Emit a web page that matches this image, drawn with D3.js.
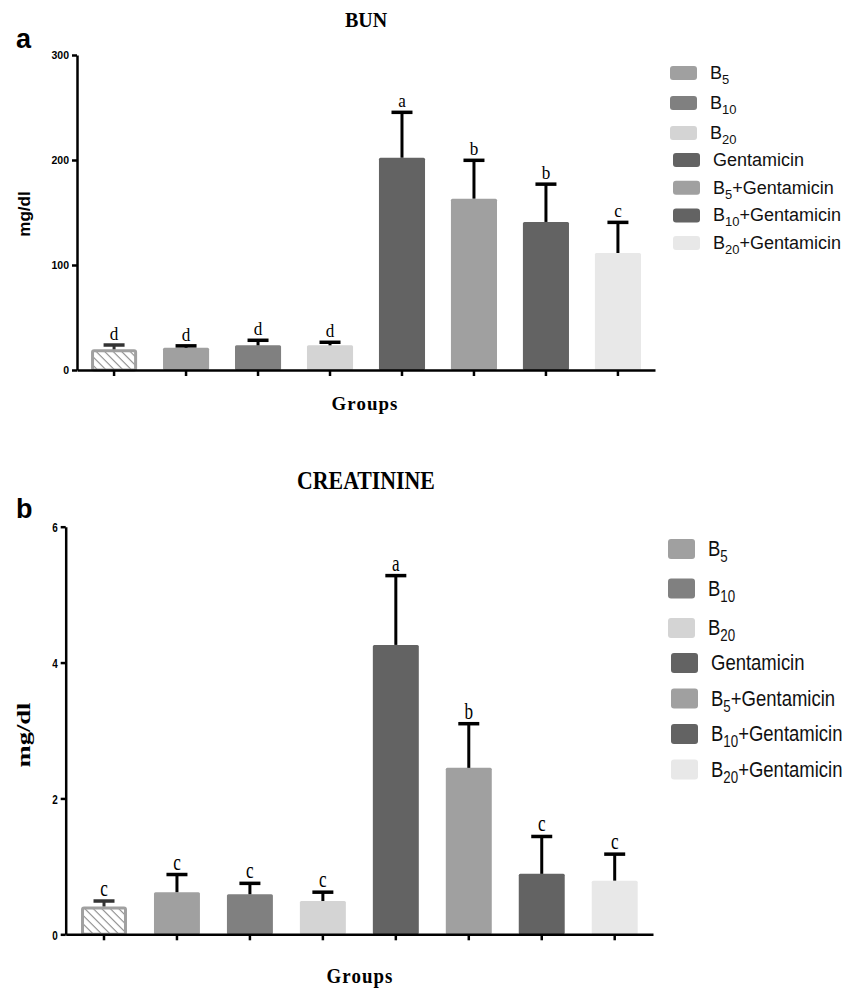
<!DOCTYPE html>
<meta charset="utf-8">
<style>
body { margin: 0; background: #fff; }
svg { display: block; }
.axis path, .axis line { stroke: #000; stroke-width: 2.5; fill: none; }
.axis text { font-family: "Liberation Sans", Arial, sans-serif; font-weight: bold; fill: #000; }
</style>
<body>
<script src="https://cdnjs.cloudflare.com/ajax/libs/d3/7.8.5/d3.min.js"></script>
<script>

// groups on the x axis (first one is the hatched control bar, not in the legend)
var groups = ["Control", "B5", "B10", "B20", "Gentamicin", "B5+Gentamicin", "B10+Gentamicin", "B20+Gentamicin"];

// legend labels split as [base, subscript, rest]
var legendParts = [
  ["B", "5", ""], ["B", "10", ""], ["B", "20", ""], ["Gentamicin", "", ""],
  ["B", "5", "+Gentamicin"], ["B", "10", "+Gentamicin"], ["B", "20", "+Gentamicin"]
];

// BUN (mg/dl): mean and upper error
var bunMean = [19.7, 21.2, 23.5, 23.5, 202.2, 163.2, 141, 111.4];
var bunErr  = [4.1, 1.8, 4.8, 2.9, 43.2, 36.5, 36, 29.2];
var bunLetters = ["d", "d", "d", "d", "a", "b", "b", "c"];
var bunTicks = [0, 100, 200, 300];

// Creatinine (mg/dl)
var creMean = [0.41, 0.62, 0.59, 0.49, 4.26, 2.45, 0.89, 0.79];
var creErr  = [0.08, 0.26, 0.16, 0.13, 1.02, 0.65, 0.55, 0.39];
var creLetters = ["c", "c", "c", "c", "a", "b", "c", "c"];
var creTicks = [0, 2, 4, 6];

var color = d3.scaleOrdinal()
    .domain(groups)
    .range(["#ffffff", "#a0a0a0", "#808080", "#d4d4d4", "#636363", "#a0a0a0", "#636363", "#e8e8e8"]);

var serif = "'Liberation Serif', 'Times New Roman', serif",
    sans = "'Liberation Sans', Arial, sans-serif";

var svg = d3.select("body").append("svg")
    .attr("width", 862)
    .attr("height", 991);

var defs = svg.append("defs");
var hatch = defs.append("pattern")
    .attr("id", "hatch")
    .attr("patternUnits", "userSpaceOnUse")
    .attr("width", 6)
    .attr("height", 6)
    .attr("patternTransform", "rotate(45)");
hatch.append("rect").attr("width", 6).attr("height", 6).attr("fill", "#fff");
hatch.append("line")
    .attr("x1", 0).attr("y1", 0).attr("x2", 6).attr("y2", 0)
    .attr("stroke", "#8a8a8a").attr("stroke-width", 2.2);

// text helper, sy stretches glyphs vertically (the bottom panel is squashed in the source)
function label(g, x, y, txt, font, size, weight, sx, sy, anchor, rot) {
  return g.append("text")
      .attr("transform", "translate(" + x + "," + y + ")" + (rot ? " rotate(" + rot + ")" : "") + " scale(" + sx + "," + sy + ")")
      .attr("text-anchor", anchor || "middle")
      .style("font-family", font)
      .style("font-size", size + "px")
      .style("font-weight", weight)
      .text(txt);
}

function panel(o) {
  var g = svg.append("g");

  var x = d3.scaleBand()
      .domain(groups)
      .range([o.x0, o.x1])
      .paddingInner(o.pin)
      .paddingOuter(o.pout);

  var y = d3.scaleLinear()
      .domain([0, o.ticks[o.ticks.length - 1]])
      .range([o.y0, o.y1]);

  // bars
  g.selectAll("rect.bar")
      .data(groups)
    .enter().append("rect")
      .attr("class", "bar")
      .attr("x", function(d, i) { return x(d) + (i == 0 ? 1.5 : 0); })
      .attr("width", function(d, i) { return x.bandwidth() - (i == 0 ? 3 : 0); })
      .attr("y", function(d, i) { return y(o.mean[i]) + (i == 0 ? 1.5 : 0); })
      .attr("height", function(d, i) { return y(0) - y(o.mean[i]) - (i == 0 ? 1.5 : 0); })
      .attr("rx", 1.5)
      .attr("fill", function(d, i) { return i == 0 ? "url(#hatch)" : color(d); })
      .attr("stroke", function(d, i) { return i == 0 ? "#a0a0a0" : "none"; })
      .attr("stroke-width", 3);

  // error bars (upper only)
  var cx = function(d) { return x(d) + x.bandwidth() / 2; };
  g.selectAll("line.stem")
      .data(groups)
    .enter().append("line")
      .attr("x1", cx).attr("x2", cx)
      .attr("y1", function(d, i) { return y(o.mean[i]); })
      .attr("y2", function(d, i) { return y(o.mean[i] + o.err[i]); })
      .attr("stroke", function(d, i) { return i == 0 ? "#333" : "#000"; })
      .attr("stroke-width", 3);
  g.selectAll("line.cap")
      .data(groups)
    .enter().append("line")
      .attr("x1", function(d) { return cx(d) - 10.5; })
      .attr("x2", function(d) { return cx(d) + 10.5; })
      .attr("y1", function(d, i) { return y(o.mean[i] + o.err[i]); })
      .attr("y2", function(d, i) { return y(o.mean[i] + o.err[i]); })
      .attr("stroke", function(d, i) { return i == 0 ? "#333" : "#000"; })
      .attr("stroke-width", 3.5);

  // significance letters
  groups.forEach(function(d, i) {
    label(g, cx(d), y(o.mean[i] + o.err[i]) - 5, o.letters[i], serif, 19, "normal", 0.9, o.sy, "middle");
  });

  // axes
  var ya = g.append("g")
      .attr("class", "axis")
      .attr("transform", "translate(" + o.x0 + ",0)")
      .call(d3.axisLeft(y).tickValues(o.ticks).tickFormat(d3.format("d")).tickSize(5).tickSizeOuter(0).tickPadding(3));
  ya.selectAll("text")
      .style("font-size", o.tickFont + "px")
      .attr("transform", "scale(" + o.tickSx + "," + o.tickSy + ")")
      .attr("x", -8 / o.tickSx)
      .attr("y", 0)
      .attr("dy", "0.36em");

  g.append("g")
      .attr("class", "axis")
      .attr("transform", "translate(0," + o.y0 + ")")
      .call(d3.axisBottom(x).tickSize(6).tickSizeOuter(0).tickFormat(""));

  // titles
  label(g, o.titleX, o.titleY, o.title, serif, o.titleSize, "bold", o.titleSx, o.titleSy, "middle");
  label(g, o.groupsX, o.groupsY, "Groups", serif, 18, "bold", 1.05, o.groupsSy, "middle").style("letter-spacing", "1px");
  label(g, o.ylabX, o.ylabY, "mg/dl", o.ylabFont, o.ylabSize, "bold", o.ylabSx, 1, "middle", -90);
  label(g, 16, o.panelY, o.panel, sans, 27, "bold", 1, 1, "start");

  // legend
  var leg = g.append("g");
  legendParts.forEach(function(p, i) {
    var cy = i < 3 ? o.legY0 + o.legP0 * i : o.legY1 + o.legP1 * (i - 3);
    var dx = i < 3 ? 0 : 3;
    leg.append("rect")
        .attr("x", o.legX + dx)
        .attr("y", cy - o.swH / 2)
        .attr("width", 27)
        .attr("height", o.swH)
        .attr("rx", 3)
        .attr("fill", color(groups[i + 1]));
    var t = leg.append("text")
        .attr("transform", "translate(" + (o.legX + 40 + dx) + "," + (cy + 6 * o.sy) + ") scale(1," + o.sy + ")")
        .style("font-family", sans)
        .style("font-size", o.legFont + "px")
        .style("fill", "#111");
    t.append("tspan").text(p[0]);
    if (p[1]) t.append("tspan").attr("dy", 5).style("font-size", (o.legFont * 0.72) + "px").text(p[1]);
    if (p[2]) t.append("tspan").attr("dy", -5).text(p[2]);
  });
}

panel({
  x0: 77, x1: 655, y0: 370, y1: 55, pin: 0.36, pout: 0.195,
  mean: bunMean, err: bunErr, letters: bunLetters, ticks: bunTicks,
  tickFont: 10.5, tickSx: 1, tickSy: 1, sy: 1,
  title: "BUN", titleX: 366, titleY: 27, titleSize: 20, titleSx: 1, titleSy: 1,
  groupsX: 365, groupsY: 410, groupsSy: 1,
  ylabX: 30, ylabY: 214, ylabFont: sans, ylabSize: 17, ylabSx: 1,
  panel: "a", panelY: 48,
  legX: 670, legY0: 73, legP0: 30, legY1: 160, legP1: 27.7, swH: 14, legFont: 18
});

panel({
  x0: 65.7, x1: 653, y0: 934.3, y1: 526.7, pin: 0.37, pout: 0.21,
  mean: creMean, err: creErr, letters: creLetters, ticks: creTicks,
  tickFont: 11, tickSx: 0.9, tickSy: 1.2, sy: 1.2,
  title: "CREATININE", titleX: 366, titleY: 489, titleSize: 26, titleSx: 0.84, titleSy: 1,
  groupsX: 360, groupsY: 983, groupsSy: 1.15,
  ylabX: 30, ylabY: 735, ylabFont: serif, ylabSize: 19, ylabSx: 1.4,
  panel: "b", panelY: 518,
  legX: 668, legY0: 549, legP0: 39.5, legY1: 663, legP1: 35.5, swH: 20, legFont: 18.5
});

</script>
</body>
